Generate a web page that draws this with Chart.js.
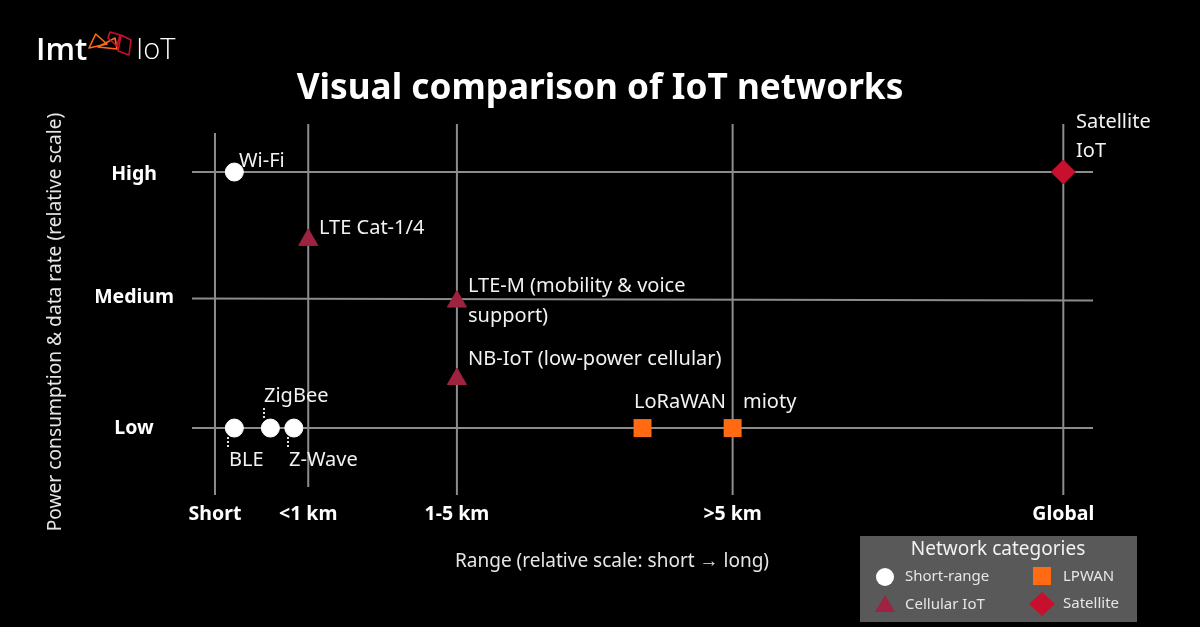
<!DOCTYPE html>
<html><head><meta charset="utf-8">
<style>html,body{margin:0;padding:0;background:#000}#w{width:1200px;height:627px}</style>
<script src="https://cdn.jsdelivr.net/npm/chart.js@4"></script></head>
<body><div id="w"><canvas id="c" width="1200" height="627"></canvas></div>
<script>
const FONT='"Noto Sans"';
const rangeTicks=[2.55,12.9,29.4,60,96.7];
const rangeLabels=['Short','<1 km','1-5 km','>5 km','Global'];
const powerTicks=[1,2.02,2.98];
const powerLabels=['Low','Medium','High'];
const shortNames=['Wi-Fi','BLE','ZigBee','Z-Wave'];
const shortX=[4.7,4.7,8.7,11.3];
const shortY=[3,1,1,1];
const cellNames=['LTE Cat-1/4','LTE-M','NB-IoT'];
const cellX=[12.9,29.4,29.4];
const cellY=[2.47,1.988,1.383];
const lpwanNames=['LoRaWAN','mioty'];
const lpwanX=[50,60];
const lpwanY=[1,1];
const satNames=['Satellite IoT'];
const satX=[96.7];
const satY=[3];
const YMIN=0.477,YMAX=3.375,XMAX=111.87;
const guide='#8c8c8c';
function pts(xs,ys){return xs.map((x,i)=>({x,y:ys[i]}));}
const guides=[];
rangeTicks.forEach((x,i)=>guides.push({label:'guide',data:[{x,y:i==0?3.305:YMAX},{x,y:i==1?0.54:YMIN}],showLine:true,pointRadius:0,borderColor:guide,borderWidth:2,order:5}));
[[1,1],[2.012,1.996],[3,3]].forEach((y)=>guides.push({label:'guide',data:[{x:0,y:y[0]},{x:100,y:y[1]}],showLine:true,pointRadius:0,borderColor:guide,borderWidth:2,order:5}));
const datasets=[...guides,
{label:'Short-range',data:pts(shortX,shortY),pointStyle:'circle',pointRadius:9,backgroundColor:'#fff',borderColor:'#fff',order:1},
{label:'Cellular IoT',data:pts(cellX,cellY),pointStyle:'triangle',pointRadius:11,backgroundColor:'#9e2340',borderColor:'#9e2340',order:1},
{label:'LPWAN',data:pts(lpwanX,lpwanY),pointStyle:'rect',pointRadius:12.7,borderWidth:0,backgroundColor:'#ff6a13',borderColor:'#ff6a13',order:1},
{label:'Satellite',data:pts(satX,satY),pointStyle:'rectRot',pointRadius:12,backgroundColor:'#c8102e',borderColor:'#c8102e',order:1}];
const texts=[
['Wi-Fi',239,161],['LTE Cat-1/4',319,228],['LTE-M (mobility & voice',468,286],['support)',468,316],
['NB-IoT (low-power cellular)',468,359],['ZigBee',264,396],['BLE',229,460],['Z-Wave',289,460],
['LoRaWAN',634,402],['mioty',743,402],['Satellite',1076,122],['IoT',1076,151]];
const overlay={id:'overlay',afterDraw(ch){
 const c=ch.ctx;c.save();c.textBaseline='middle';c.fillStyle='#f2f2f2';c.textAlign='left';
 c.font='20px '+FONT;texts.forEach(t=>c.fillText(t[0],t[1],t[2]));
 c.textAlign='center';c.fillStyle='#e6e6e6';c.font='19px '+FONT;c.fillText('Range (relative scale: short → long)',612,562);
 c.save();c.translate(56,322);c.rotate(-Math.PI/2);c.font='19.2px '+FONT;c.fillText('Power consumption & data rate (relative scale)',0,0);c.restore();
 c.strokeStyle='#ddd';c.lineWidth=2;c.setLineDash([2,2]);
 [[264,408,418],[228,437,447],[288,437,447]].forEach(l=>{c.beginPath();c.moveTo(l[0],l[1]);c.lineTo(l[0],l[2]);c.stroke();});
 c.setLineDash([]);
 c.fillStyle='#595959';c.fillRect(860,536,277,86);
 c.fillStyle='#f2f2f2';c.font='19px '+FONT;c.textAlign='center';c.fillText('Network categories',998,550);
 c.font='15px '+FONT;c.textAlign='left';c.fillStyle='#e6e6e6';
 c.fillText('Short-range',905,577);c.fillText('Cellular IoT',905,605);c.fillText('LPWAN',1063,577);c.fillText('Satellite',1063,604);
 c.fillStyle='#fff';c.beginPath();c.arc(885,577,9,0,7);c.fill();
 c.fillStyle='#ff6a13';c.fillRect(1033,567,18,18);
 c.fillStyle='#9e2340';c.beginPath();c.moveTo(885,595);c.lineTo(895,612);c.lineTo(875,612);c.closePath();c.fill();
 c.fillStyle='#c8102e';c.beginPath();c.moveTo(1042,592);c.lineTo(1055,604);c.lineTo(1042,616);c.lineTo(1029,604);c.closePath();c.fill();
 c.textAlign='left';c.fillStyle='#fff';c.font='600 31px "Open Sans"';c.fillText('Imt',36,51);
 c.font='300 29px "Open Sans"';c.fillText('IoT',136,51);
 c.lineWidth=1.6;c.lineJoin='round';c.strokeStyle='#ff6a13';
 [[[95.7,34],[107,44],[89,48]],[[98,47],[115,38],[117,49]]].forEach(p=>{c.beginPath();p.forEach((q,i)=>i?c.lineTo(q[0],q[1]):c.moveTo(q[0],q[1]));c.closePath();c.stroke();});
 c.strokeStyle='#c8102e';
 [[[110,32],[120,35],[117,46],[108,38]],[[121,35],[131,40],[129,55],[118,51]]].forEach(p=>{c.beginPath();p.forEach((q,i)=>i?c.lineTo(q[0],q[1]):c.moveTo(q[0],q[1]));c.closePath();c.stroke();});
 c.restore();
}};
function noPad(s){s.paddingLeft=s.paddingRight=s.paddingTop=s.paddingBottom=0;}
new Chart(document.getElementById('c'),{type:'scatter',data:{datasets},plugins:[overlay],options:{
 responsive:false,animation:false,
 layout:{autoPadding:false,padding:{left:0,right:0,top:0,bottom:0}},
 plugins:{legend:{display:false},tooltip:{enabled:false},
  title:{display:true,text:'Visual comparison of IoT networks',color:'#fff',font:{family:FONT,size:35.2,weight:'bold',lineHeight:1.2},padding:{top:67.8,bottom:14}}},
 scales:{
  x:{type:'linear',bounds:'data',min:0,max:XMAX,grid:{display:false},border:{display:false},
   afterBuildTicks(s){s.ticks=rangeTicks.map(value=>({value}));},
   afterFit(s){s.height=132;noPad(s);},
   ticks:{autoSkip:false,maxRotation:0,padding:0,color:'#fff',font:{family:FONT,size:19.5,weight:'bold'},callback:(v)=>rangeLabels[rangeTicks.indexOf(v)]}},
  y:{type:'linear',bounds:'data',min:YMIN,max:YMAX,grid:{display:false},border:{display:false},
   afterBuildTicks(s){s.ticks=powerTicks.map(value=>({value}));},
   afterFit(s){s.width=192;noPad(s);},
   ticks:{autoSkip:false,crossAlign:'center',padding:10,color:'#fff',font:{family:FONT,size:19.5,weight:'bold'},callback:(v)=>powerLabels[powerTicks.indexOf(v)]}}
 }}});
</script></body></html>
